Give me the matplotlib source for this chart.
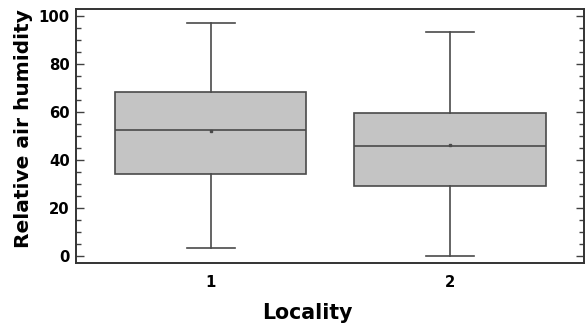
#!/usr/bin/env python3
"""Box plot of relative air humidity per locality."""

import matplotlib
matplotlib.use('Agg')
import matplotlib.pyplot as plt
from matplotlib.ticker import MultipleLocator

# summary statistics per locality
LOCALITIES = ['1', '2']
WHISK_LO = [3.2, 0.0]
Q1 = [34.0, 29.0]
MEDIAN = [52.5, 45.7]
Q3 = [68.1, 59.3]
WHISK_HI = [97.1, 93.2]
MEAN = [52.1, 46.1]

EDGE = '#4a4a4a'
FILL = '#c4c4c4'


def build_stats():
    stats = []
    for i, name in enumerate(LOCALITIES):
        stats.append({'label': name, 'whislo': WHISK_LO[i], 'q1': Q1[i], 'med': MEDIAN[i],
                      'q3': Q3[i], 'whishi': WHISK_HI[i], 'mean': MEAN[i], 'fliers': []})
    return stats


def plot_graph(output_file):
    plt.rcParams['font.family'] = 'DejaVu Sans'
    plt.rcParams['font.weight'] = 'bold'
    fig = plt.figure(figsize=(5.85, 3.26), dpi=100)
    ax = fig.add_axes([0.130, 0.193, 0.868, 0.779])

    ax.bxp(build_stats(), positions=[1, 2], widths=0.80, capwidths=0.2,
           patch_artist=True, showmeans=True,
           boxprops=dict(facecolor=FILL, edgecolor=EDGE, linewidth=1.2),
           medianprops=dict(color=EDGE, linewidth=1.2),
           whiskerprops=dict(color=EDGE, linewidth=1.2),
           capprops=dict(color=EDGE, linewidth=1.2),
           meanprops=dict(marker='s', markersize=1.6, markerfacecolor=EDGE,
                          markeredgecolor=EDGE))

    ax.set_xlim(0.437, 2.56)
    ax.set_ylim(-3.1, 102.8)
    ax.yaxis.set_major_locator(MultipleLocator(20))
    ax.yaxis.set_minor_locator(MultipleLocator(5))
    ax.tick_params(axis='y', which='both', direction='in', left=True, right=True,
                   color='#404040', width=1.0, labelsize=10.7, pad=4.5)
    ax.tick_params(axis='y', which='major', length=6)
    ax.tick_params(axis='y', which='minor', length=3.6)
    ax.tick_params(axis='x', length=0, labelsize=10.7, pad=8.5)

    for s in ax.spines.values():
        s.set_color('#333333')
        s.set_linewidth(1.4)

    ax.set_ylabel('Relative air humidity', fontsize=14.5, fontweight='bold')
    ax.yaxis.set_label_coords(-0.085, 0.53)
    ax.set_xlabel('Locality', fontsize=14.8, fontweight='bold')
    ax.xaxis.set_label_coords(0.456, -0.158)

    plt.savefig(output_file, dpi=100)


if __name__ == "__main__":
    plot_graph('out.png')
